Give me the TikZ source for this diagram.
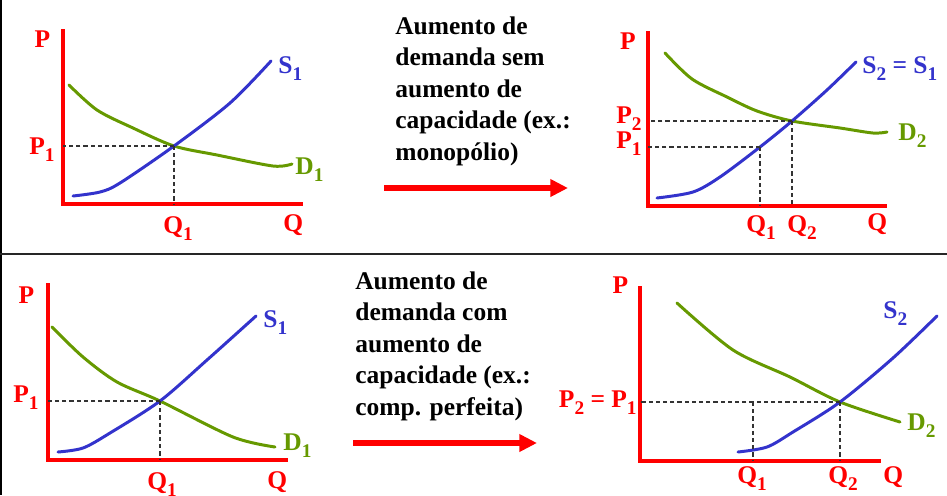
\documentclass[tikz,border=0pt]{standalone}
\usepackage{fontspec}
\setmainfont{Liberation Serif}
\usetikzlibrary{arrows.meta, calc}

\definecolor{supblue}{RGB}{51,51,204}
\definecolor{demgreen}{RGB}{102,153,0}
\newcommand{\lowsub}[1]{\raisebox{-0.3em}{\fontsize{11}{11}\selectfont #1}}

\begin{document}
\begin{tikzpicture}[x=0.02cm, y=-0.02cm,
    axisln/.style={red, line width=1.8pt},
    supply/.style={supblue, line width=1.7pt, line cap=round},
    demand/.style={demgreen, line width=1.7pt, line cap=round},
    guide/.style={black!80, line width=0.6pt, dash pattern=on 2.4pt off 1.7pt},
    bigarrow/.style={red, line width=3.2pt, -{Triangle[length=10pt, width=9.5pt]}},
    lbl/.style={inner sep=0pt, font=\fontsize{14.5}{18}\selectfont\bfseries},
    plbl/.style={lbl, text=red},
    slbl/.style={lbl, text=supblue},
    dlbl/.style={lbl, text=demgreen},
    txt/.style={lbl, align=left, anchor=north west}]
    \useasboundingbox (0,0) rectangle (947,495);

    % Frame lines
    \draw[black, line width=1.6pt] (1,0) -- (1,495);
    \draw[black!85, line width=1.2pt] (0,254) -- (947,254);

    % Top left: initial equilibrium
    \draw[axisln] (63,29) |- (303,204);
    \coordinate (o1) at (63,204);
    \draw[demand] plot[smooth, tension=0.5] coordinates
        {(69,85) (97,110) (133,128) (174,146) (217,155) (273,166) (292,164)};
    \draw[supply] plot[smooth, tension=0.5] coordinates
        {(73,196) (100,192) (120,183) (174,146) (230,103) (271,61)};
    \coordinate (e1) at (174,146);
    \draw[guide] (e1) -- (e1 -| o1);
    \draw[guide] (e1) -- (e1 |- o1);
    \node[plbl, anchor=base] (p1ax) at (42.5,47) {P};
    \node[plbl, anchor=base east] (p1a) at (55,154) {P\lowsub{1}};
    \node[slbl, anchor=base west] (s1a) at (278,73) {S\lowsub{1}};
    \node[dlbl, anchor=base west] (d1a) at (295,174) {D\lowsub{1}};
    \node[plbl, anchor=base west] (q1a) at (163,233) {Q\lowsub{1}};
    \node[plbl, anchor=base west] (q1ax) at (283,231) {Q};

    % Top middle: text and arrow
    \node[txt] (semcap) at (395,16)
        {Aumento de\\demanda sem\\aumento de\\capacidade (ex.:\\monopólio)};
    \coordinate (a1s) at (384,188);
    \coordinate (a1e) at (568,188);
    \draw[bigarrow] (a1s) -- (a1e);

    % Top right: demand up, capacity fixed
    \draw[axisln] (648,31) |- (887,206);
    \coordinate (o2) at (648,206);
    \draw[demand] plot[smooth, tension=0.5] coordinates
        {(665,53) (692,79) (727,97) (757,111) (792,121) (840,128) (873,133) (887,132)};
    \draw[supply] plot[smooth, tension=0.5] coordinates
        {(657,198) (693,192) (720,177) (760,147) (792,121) (827,90) (856,62)};
    \coordinate (e2a) at (760,147);
    \coordinate (e2b) at (792,121);
    \draw[guide] (e2a) -- (e2a -| o2);
    \draw[guide] (e2a) -- (e2a |- o2);
    \draw[guide] (e2b) -- (e2b -| o2);
    \draw[guide] (e2b) -- (e2b |- o2);
    \node[plbl, anchor=base] (p2ax) at (628,49) {P};
    \node[plbl, anchor=base east] (p2b) at (642,123) {P\lowsub{2}};
    \node[plbl, anchor=base east] (p2a) at (642,148) {P\lowsub{1}};
    \node[slbl, anchor=base west] (s2b) at (862,73) {S\lowsub{2} = S\lowsub{1}};
    \node[dlbl, anchor=base west] (d2b) at (898,140) {D\lowsub{2}};
    \node[plbl, anchor=base west] (q2a) at (746,232) {Q\lowsub{1}};
    \node[plbl, anchor=base west] (q2b) at (787,232) {Q\lowsub{2}};
    \node[plbl, anchor=base west] (q2ax) at (867,230) {Q};

    % Bottom left: initial equilibrium
    \draw[axisln] (48,283) |- (288,460);
    \coordinate (o3) at (48,460);
    \draw[demand] plot[smooth, tension=0.5] coordinates
        {(52,327) (83,357) (117,382) (160,401) (233,437) (275,447)};
    \draw[supply] plot[smooth, tension=0.5] coordinates
        {(58,452) (83,448) (110,433) (160,401) (207,360) (256,316)};
    \coordinate (e3) at (160,401);
    \draw[guide] (e3) -- (e3 -| o3);
    \draw[guide] (e3) -- (e3 |- o3);
    \node[plbl, anchor=base] (p3ax) at (26.5,303) {P};
    \node[plbl, anchor=base east] (p3a) at (39,402) {P\lowsub{1}};
    \node[slbl, anchor=base west] (s3a) at (263,327) {S\lowsub{1}};
    \node[dlbl, anchor=base west] (d3a) at (283,450) {D\lowsub{1}};
    \node[plbl, anchor=base west] (q3a) at (147,489) {Q\lowsub{1}};
    \node[plbl, anchor=base west] (q3ax) at (267,488) {Q};

    % Bottom middle: text and arrow
    \node[txt] (comcap) at (355,271)
        {Aumento de\\demanda com\\aumento de\\capacidade (ex.:\\comp. perfeita)};
    \coordinate (a2s) at (353,443);
    \coordinate (a2e) at (537,443);
    \draw[bigarrow] (a2s) -- (a2e);

    % Bottom right: demand and capacity up
    \draw[axisln] (640,286) |- (881,461);
    \coordinate (o4) at (640,461);
    \draw[demand] plot[smooth, tension=0.5] coordinates
        {(677,303) (733,350) (790,377) (840,402) (900,422)};
    \draw[supply] plot[smooth, tension=0.5] coordinates
        {(738,452) (767,447) (793,432) (840,402) (893,358) (937,316)};
    \coordinate (e4) at (840,402);
    \coordinate (e4q) at (753,402);
    \draw[guide] (e4) -- (e4 -| o4);
    \draw[guide] (e4) -- (e4 |- o4);
    \draw[guide] (e4q) -- (e4q |- o4);
    \node[plbl, anchor=base] (p4ax) at (620.5,293) {P};
    \node[plbl, anchor=base east] (p4a) at (637,407) {P\lowsub{2} = P\lowsub{1}};
    \node[slbl, anchor=base west] (s4b) at (883,318) {S\lowsub{2}};
    \node[dlbl, anchor=base west] (d4b) at (907,430) {D\lowsub{2}};
    \node[plbl, anchor=base west] (q4a) at (737,483) {Q\lowsub{1}};
    \node[plbl, anchor=base west] (q4b) at (828,483) {Q\lowsub{2}};
    \node[plbl, anchor=base west] (q4ax) at (883,483) {Q};
\end{tikzpicture}
\end{document}
